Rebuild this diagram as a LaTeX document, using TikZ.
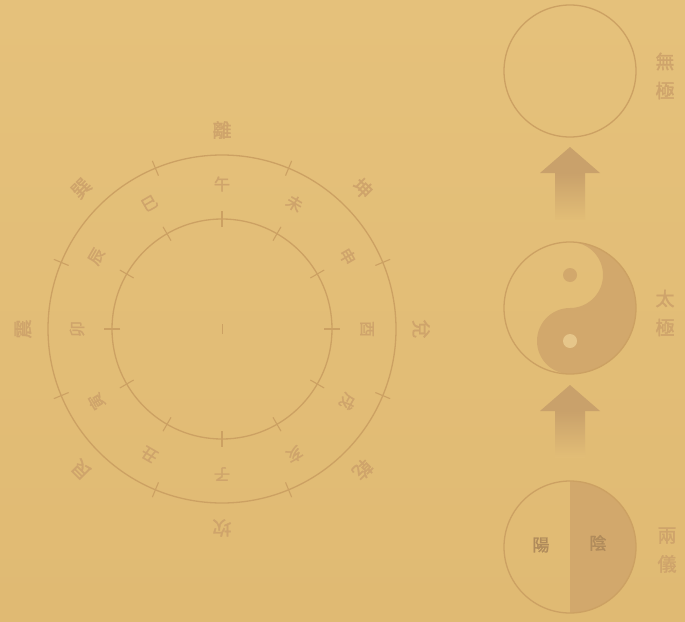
\documentclass[tikz,border=0pt]{standalone}
\usepackage{fontspec}
\usetikzlibrary{calc}
\newfontfamily\cjk[FakeBold=1.6]{Noto Sans CJK TC}
\definecolor{bgc}{HTML}{E2BD76}
\definecolor{bgtop}{HTML}{E5C17B}
\definecolor{bgbot}{HTML}{E0BA73}
\definecolor{linec}{HTML}{CCA163}
\definecolor{txtc}{HTML}{CFA46B}
\definecolor{darkc}{HTML}{D2A86C}
\definecolor{lightdot}{HTML}{E6C68A}
\definecolor{arrowc}{HTML}{C9A16B}
\begin{document}
\begin{tikzpicture}[x=1pt,y=1pt,
  ring/.style={circle,draw=linec,line width=1.3pt,inner sep=0pt},
  tickline/.style={draw=linec,line width=1.1pt},
  outerlbl/.style={text=txtc,font=\cjk\fontsize{19}{19}\selectfont,inner sep=0pt},
  branchlbl/.style={text=txtc,font=\cjk\fontsize{16}{16}\selectfont,inner sep=0pt},
  sidelbl/.style={text=txtc,font=\cjk\fontsize{19}{29}\selectfont,align=center,inner sep=0pt},
  halflbl/.style={text=txtc!85!black,font=\cjk\fontsize{17}{17}\selectfont,inner sep=0pt}]
\shade[top color=bgtop,bottom color=bgbot] (0,0) rectangle (685,-621);
\useasboundingbox (0,0) rectangle (685,-621);

% compass
\node[ring,minimum size=348pt] (outer) at (222,-329) {};
\node[ring,minimum size=220pt] (inner) at (222,-329) {};
\begin{scope}[shift={(outer.center)}]
  \foreach \a in {22.5,67.5,...,337.5}
    \draw[tickline] (\a:166) -- (\a:182);
  \foreach \a in {0,30,...,330}
    \draw[tickline] (\a:102) -- (\a:118);
  \draw[tickline,line width=0.8pt] (0,-5) -- (0,5);
  \foreach \a/\t/\n in {90/離/li,45/坤/kun,0/兌/dui,315/乾/qian,270/坎/kan,225/艮/gen,180/震/zhen,135/巽/xun}
    \node[outerlbl,rotate=\a-90] (g\n) at (\a:199) {\t};
  \foreach \a/\t/\n in {90/午/wu,60/未/wei,30/申/shen,0/酉/you,330/戌/xu,300/亥/hai,270/子/zi,240/丑/chou,210/寅/yin,180/卯/mao,150/辰/chen,120/巳/si}
    \node[branchlbl,rotate=\a-90] (b\n) at (\a:145) {\t};
\end{scope}

% right column
\node[ring,minimum size=132pt] (wuji) at (570,-71) {};
\node[sidelbl] (lblwuji) at (665,-76) {無\\極};

% yin-yang
\coordinate (tj) at (570,-308);
\fill[darkc] (570,-242) arc[start angle=90,end angle=-90,radius=66]
  arc[start angle=-90,end angle=-270,radius=33]
  arc[start angle=-90,end angle=90,radius=33] -- cycle;
\fill[darkc] (570,-275) circle (7);
\fill[lightdot] (570,-341) circle (7);
\node[ring,minimum size=132pt] (taiji) at (tj) {};
\node[sidelbl] (lbltaiji) at (665,-313) {太\\極};

% two modes
\coordinate (ly) at (570,-547);
\fill[darkc] (570,-481) arc[start angle=90,end angle=-90,radius=66] -- cycle;
\node[ring,minimum size=132pt] (liangyi) at (ly) {};
\node[halflbl] (yang) at (541,-545) {陽};
\node[halflbl] (yinl) at (598,-543) {陰};
\node[sidelbl] (lblliangyi) at (667,-550) {兩\\儀};

% arrows (pointing up)
\foreach \tip/\nm in {-147/a1,-385/a2}{
  \coordinate (\nm tip) at (570,\tip);
  \fill[arrowc] (\nm tip) -- ++(-30,-26) -- ++(60,0) -- cycle;
  \shade[top color=arrowc,bottom color=bgc] ($(\nm tip)+(-15,-26)$) rectangle ($(\nm tip)+(15,-72)$);
}
\end{tikzpicture}
\end{document}
